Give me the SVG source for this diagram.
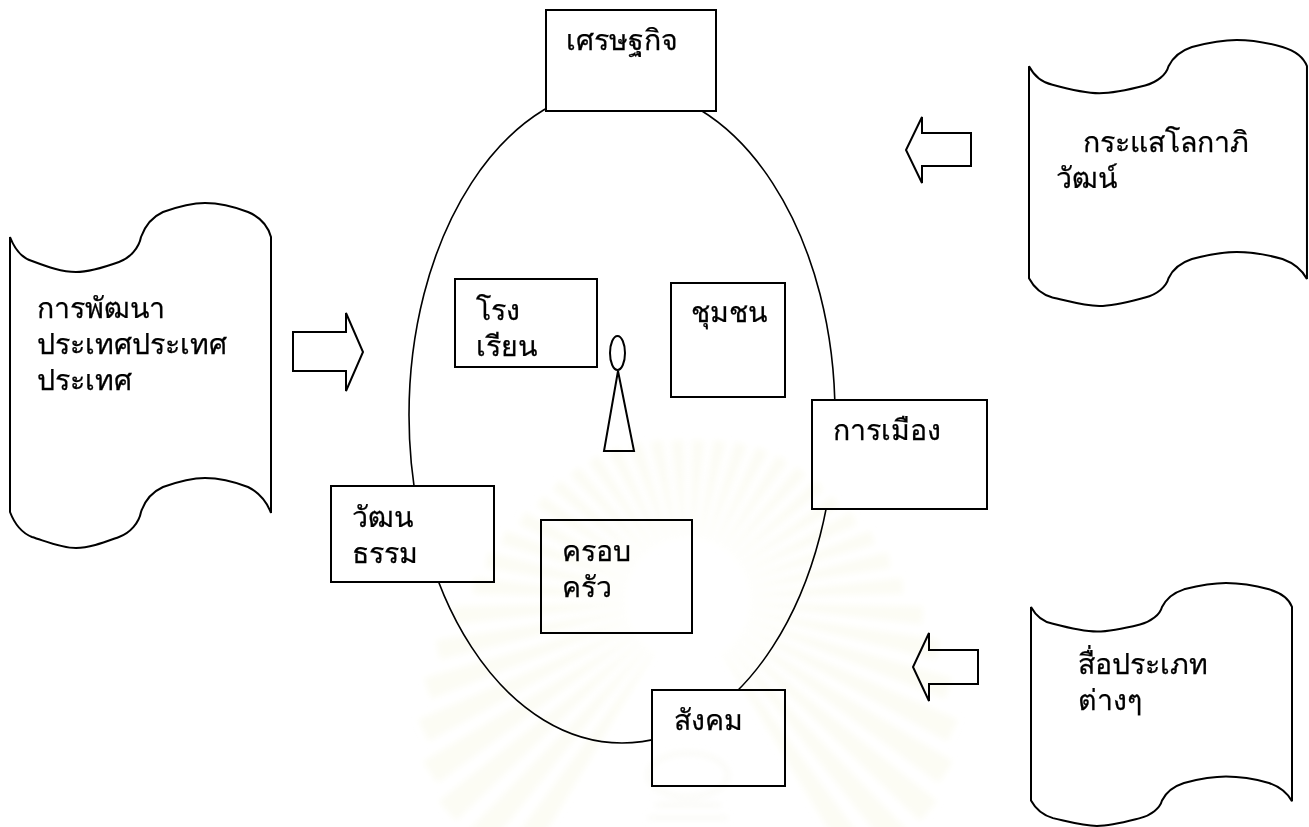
<svg xmlns="http://www.w3.org/2000/svg" width="1309" height="827" viewBox="0 0 1309 827">
<style>
.s{fill:#fff;stroke:#000;stroke-width:2}
.l{fill:none;stroke:#000;stroke-width:1.6}
.d{fill:#fff;stroke:#000;stroke-width:2;vector-effect:non-scaling-stroke}
text{font-family:"Noto Sans","Liberation Sans",sans-serif;font-size:28.5px;fill:#000;stroke:#000;stroke-width:.25}
#watermark{mix-blend-mode:multiply;pointer-events:none}
#rays path{fill:#fcfcf4}
.c{fill:none;stroke:#f8f8f2;stroke-width:3}
</style>
<defs>
<path id="doc" class="d" d="M0,34 C5,47 12,55 22,58 C38,64 52,69 66,69 C80,69 95,64 109,59 C120,55 129,45 131,34 C135,23 142,14 153,9 C167,4 180,0 195,0 C210,0 225,4 238,9 C250,14 258,23 261,34 L261,310 C256,297 248,289 238,284 C225,279 210,275 195,275 C180,275 167,279 153,284 C142,289 135,297 131,309 C129,320 120,330 109,334 C95,339 80,345 66,345 C52,345 38,339 22,334 C12,330 5,322 0,309 Z"/>
<filter id="soft" x="-10%" y="-10%" width="120%" height="120%"><feGaussianBlur stdDeviation="3"/></filter>
<g id="rays">
<path d="M-1-62L-6-160H6L1-62Z" transform="rotate(3.750)"/>
<path d="M-1-62L-6-162H6L1-62Z" transform="rotate(11.250)"/>
<path d="M-1-62L-6-165H6L1-62Z" transform="rotate(18.750)"/>
<path d="M-1-62L-6-168H6L1-62Z" transform="rotate(26.250)"/>
<path d="M-1-62L-6-170H6L1-62Z" transform="rotate(33.750)"/>
<path d="M-1-62L-6-172H6L1-62Z" transform="rotate(41.250)"/>
<path d="M-1-62L-6-175H6L1-62Z" transform="rotate(48.750)"/>
<path d="M-1-62L-6-178H6L1-62Z" transform="rotate(56.250)"/>
<path d="M-1-62L-7-185H7L1-62Z" transform="rotate(63.750)"/>
<path d="M-1-62L-7-195H7L1-62Z" transform="rotate(71.250)"/>
<path d="M-1-62L-8-205H8L1-62Z" transform="rotate(78.750)"/>
<path d="M-1-62L-8-215H8L1-62Z" transform="rotate(86.250)"/>
<path d="M-1-62L-9-235H9L1-62Z" transform="rotate(93.750)"/>
<path d="M-1-62L-10-255H10L1-62Z" transform="rotate(101.250)"/>
<path d="M-1-62L-11-275H11L1-62Z" transform="rotate(108.750)"/>
<path d="M-1-62L-12-295H12L1-62Z" transform="rotate(116.250)"/>
<path d="M-1-62L-13-310H13L1-62Z" transform="rotate(123.750)"/>
<path d="M-1-62L-13-320H13L1-62Z" transform="rotate(131.250)"/>
<path d="M-1-62L-13-320H13L1-62Z" transform="rotate(138.750)"/>
<path d="M-1-62L-13-320H13L1-62Z" transform="rotate(146.250)"/>
</g>
</defs>
<rect width="1309" height="827" fill="#fff"/>
<g id="connectors">
<ellipse class="l" cx="622" cy="415" rx="213" ry="328"/>
<path class="s" d="M293,332H346V313L363,352L346,391V371H293Z"/>
<path class="s" d="M971,133H922V117L906,150L922,183V166H971Z"/>
<path class="s" d="M978,650H929V633L913,667L929,701V684H978Z"/>
</g>
<g id="doc-development"><use href="#doc" transform="translate(10,203)"/>
<text x="37" y="318">การพัฒนา</text><text x="37" y="354">ประเทศประเทศ</text><text x="37" y="390">ประเทศ</text></g>
<g id="doc-globalization"><use href="#doc" transform="translate(1029,40) scale(1.065,0.771)"/>
<text x="1083" y="152">กระแสโลกาภิ</text><text x="1056" y="188">วัฒน์</text></g>
<g id="doc-media"><use href="#doc" transform="translate(1031,583) scale(1,0.704)"/>
<text x="1078" y="674">สื่อประเภท</text><text x="1078" y="710">ต่างๆ</text></g>
<g id="economy"><rect class="s" x="546" y="10" width="170" height="101"/><text x="566" y="50">เศรษฐกิจ</text></g>
<g id="politics"><rect class="s" x="812" y="400" width="175" height="109"/><text x="833" y="440">การเมือง</text></g>
<g id="culture"><rect class="s" x="331" y="486" width="163" height="96"/><text x="352" y="527">วัฒน</text><text x="352" y="563">ธรรม</text></g>
<g id="family"><rect class="s" x="541" y="520" width="151" height="113"/><text x="562" y="561">ครอบ</text><text x="562" y="597">ครัว</text></g>
<g id="society"><rect class="s" x="652" y="690" width="133" height="96"/><text x="674" y="730">สังคม</text></g>
<g id="school"><rect class="s" x="455" y="279" width="142" height="88"/><text x="476" y="320">โรง</text><text x="476" y="356">เรียน</text></g>
<g id="community"><rect class="s" x="671" y="283" width="114" height="114"/><text x="691" y="322">ชุมชน</text></g>
<g id="person"><path class="s" d="M618,371L604,451H634Z"/><ellipse class="s" cx="617.500" cy="353" rx="7.500" ry="17"/></g>
<g id="watermark" filter="url(#soft)">
<g transform="translate(688,600)"><use href="#rays"/><use href="#rays" transform="scale(-1,1)"/></g>
<ellipse class="c" cx="688" cy="775" rx="40" ry="22"/>
<path class="c" d="M655,805H721M648,818H728"/>
</g>
</svg>
